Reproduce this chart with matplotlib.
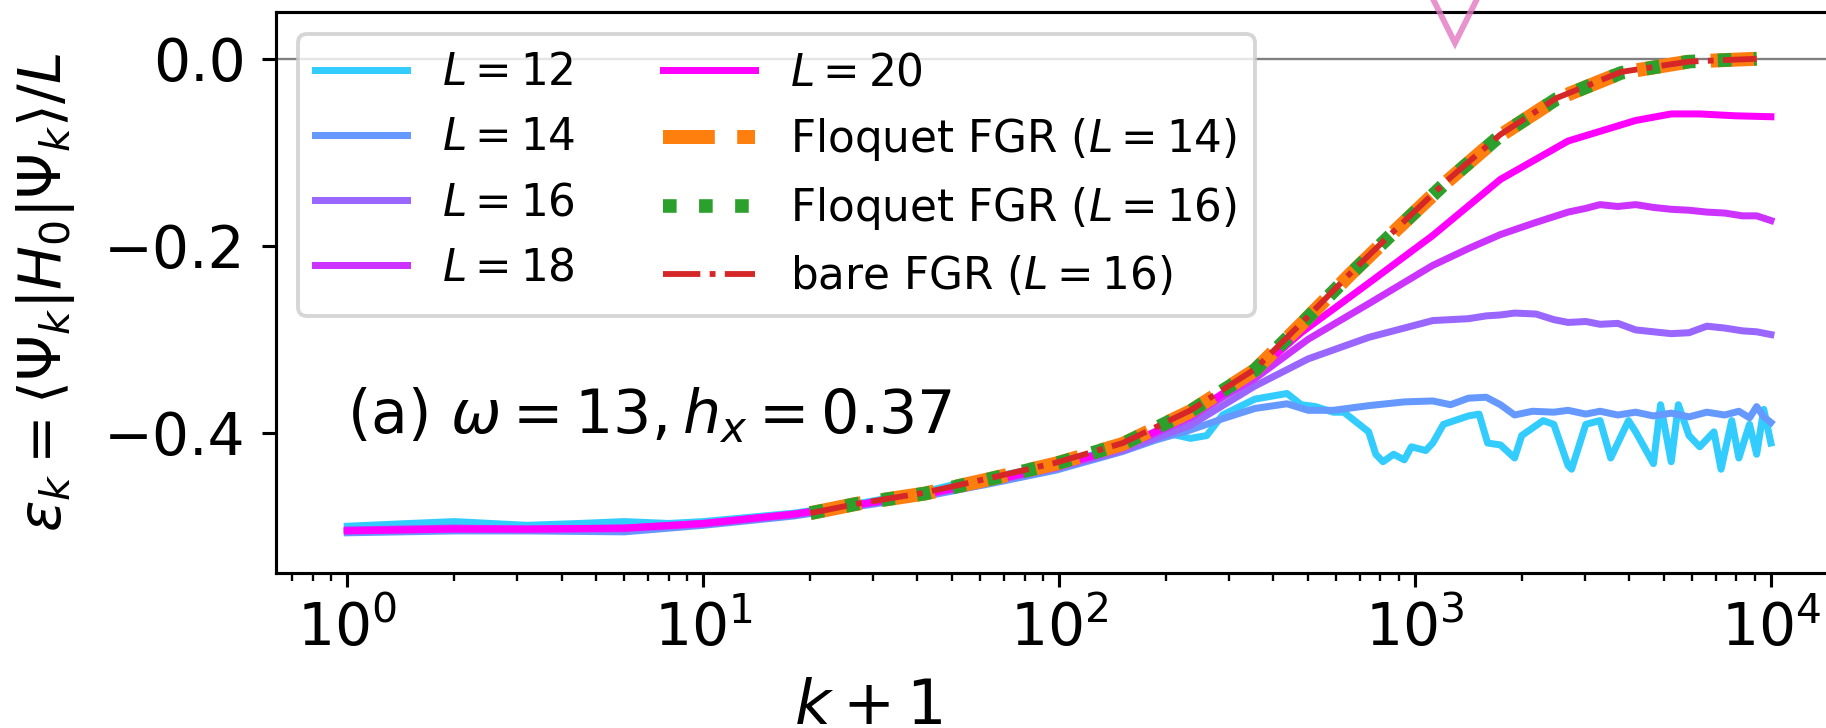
import matplotlib
matplotlib.use("Agg")
import matplotlib.pyplot as plt
import numpy as np

# energy density eps_k vs. k+1, exact dynamics for several system sizes
k_L12 = [1, 1.5, 2, 3.2, 4.5, 6, 8, 10, 18, 27, 42, 55, 70, 98, 151, 186, 210, 234, 260, 288,
         355, 437, 479, 525, 589, 631, 741, 776, 813, 871, 933, 977, 1072, 1122, 1202, 1413,
         1514, 1600, 1738, 1905, 1995, 2291, 2455, 2692, 2754, 3020, 3311, 3548, 3981, 4169,
         4677, 4898, 5248, 5495, 5888, 6310, 6918, 7244, 7762, 8128, 8710, 9120, 9550, 10000]
eps_L12 = [-0.500, -0.497, -0.495, -0.499, -0.497, -0.495, -0.497, -0.495, -0.486, -0.476,
           -0.463, -0.452, -0.445, -0.434, -0.415, -0.403, -0.402, -0.406, -0.403, -0.381,
           -0.364, -0.358, -0.370, -0.372, -0.378, -0.378, -0.399, -0.423, -0.431, -0.423,
           -0.429, -0.415, -0.419, -0.411, -0.391, -0.382, -0.380, -0.411, -0.413, -0.427,
           -0.403, -0.387, -0.391, -0.435, -0.439, -0.391, -0.387, -0.427, -0.387, -0.399,
           -0.433, -0.370, -0.431, -0.370, -0.403, -0.415, -0.399, -0.439, -0.387, -0.427,
           -0.391, -0.423, -0.375, -0.411]

k_L14 = [1, 2, 3.2, 6, 10, 18, 27, 42, 63, 98, 151, 186, 234, 288, 355, 437, 501, 589, 741,
         933, 1122, 1259, 1413, 1585, 1738, 1905, 2138, 2455, 2692, 3020, 3311, 3715, 4169,
         4677, 5248, 5888, 6607, 7413, 8128, 8710, 9120, 9550, 10000]
eps_L14 = [-0.507, -0.505, -0.505, -0.506, -0.499, -0.489, -0.479, -0.468, -0.455, -0.440,
           -0.420, -0.408, -0.397, -0.385, -0.374, -0.369, -0.376, -0.376, -0.371, -0.367,
           -0.366, -0.370, -0.363, -0.362, -0.370, -0.381, -0.377, -0.378, -0.376, -0.380,
           -0.377, -0.381, -0.378, -0.382, -0.379, -0.383, -0.378, -0.381, -0.377, -0.384,
           -0.372, -0.383, -0.389]

k_L16 = [1, 2, 3.2, 6, 10, 18, 27, 42, 63, 98, 151, 234, 288, 355, 501, 741, 933, 1122, 1413,
         1585, 1738, 1905, 2188, 2455, 2692, 3020, 3311, 3715, 4169, 4677, 5248, 5888, 6607,
         7413, 8318, 9120, 10000]
eps_L16 = [-0.505, -0.503, -0.504, -0.503, -0.498, -0.488, -0.478, -0.467, -0.453, -0.438,
           -0.419, -0.392, -0.371, -0.350, -0.321, -0.298, -0.288, -0.280, -0.278, -0.275,
           -0.274, -0.272, -0.273, -0.279, -0.282, -0.281, -0.284, -0.283, -0.290, -0.292,
           -0.294, -0.293, -0.286, -0.288, -0.291, -0.292, -0.295]

k_L18 = [1, 2, 3.2, 6, 10, 18, 27, 42, 63, 98, 151, 234, 288, 355, 501, 741, 1122, 1413, 1738,
         2188, 2692, 3020, 3311, 3715, 4169, 4677, 5248, 5888, 6607, 7413, 8318, 9120, 10000]
eps_L18 = [-0.504, -0.502, -0.503, -0.502, -0.497, -0.487, -0.477, -0.466, -0.452, -0.437,
           -0.416, -0.384, -0.362, -0.342, -0.300, -0.262, -0.221, -0.203, -0.188, -0.175,
           -0.164, -0.160, -0.156, -0.158, -0.156, -0.159, -0.161, -0.162, -0.164, -0.165,
           -0.168, -0.168, -0.173]

k_L20 = [1, 2, 3.2, 6, 10, 18, 27, 42, 63, 98, 151, 234, 288, 355, 479, 741, 1122, 1738, 2692,
         4169, 5248, 6310, 7943, 10000]
eps_L20 = [-0.505, -0.503, -0.503, -0.502, -0.497, -0.487, -0.477, -0.466, -0.452, -0.436,
           -0.415, -0.381, -0.358, -0.336, -0.293, -0.240, -0.189, -0.129, -0.088, -0.066,
           -0.059, -0.059, -0.061, -0.062]

# Fermi golden rule predictions
k_fgr = [20, 27, 42, 63, 98, 151, 234, 355, 479, 656, 891, 1233, 1738, 2500, 3802, 5888, 9120]
fgr_floquet_14 = [-0.486, -0.476, -0.465, -0.450, -0.433, -0.412, -0.377, -0.333, -0.284,
                  -0.231, -0.182, -0.131, -0.082, -0.043, -0.015, -0.003, 0.000]
fgr_floquet_16 = [-0.486, -0.476, -0.465, -0.450, -0.433, -0.412, -0.377, -0.333, -0.284,
                  -0.231, -0.182, -0.131, -0.082, -0.043, -0.015, -0.003, 0.000]
fgr_bare_16 = [-0.486, -0.476, -0.464, -0.449, -0.432, -0.411, -0.376, -0.332, -0.283,
               -0.230, -0.181, -0.130, -0.081, -0.042, -0.014, -0.003, 0.000]

sizes = [12, 14, 16, 18, 20]
k_marker = 1294

fig = plt.figure(figsize=(1826 / 280, 728 / 280), dpi=280)
ax = fig.add_axes([0.1512, 0.2129, 0.8576, 0.7706])

cols = plt.cm.cool(np.linspace(0.2, 1.0, 5))
series = [(k_L12, eps_L12), (k_L14, eps_L14), (k_L16, eps_L16), (k_L18, eps_L18), (k_L20, eps_L20)]
for (kk, ee), L, c in zip(series, sizes, cols):
    ax.plot(kk, ee, color=c, lw=1.8, label=rf"$L={L}$")

ax.plot(k_fgr, fgr_floquet_14, "--", color="tab:orange", lw=3.6, label=r"Floquet FGR ($L=14$)")
ax.plot(k_fgr, fgr_floquet_16, ":", color="tab:green", lw=3.5, label=r"Floquet FGR ($L=16$)")
ax.plot(k_fgr, fgr_bare_16, "-.", color="tab:red", lw=1.5, label=r"bare FGR ($L=16$)")

ax.axhline(0, color="gray", lw=0.6, zorder=0)
ax.plot([k_marker], [0.05], "v", mfc="none", mec="tab:pink", mew=1.5, ms=16,
        alpha=0.8, clip_on=False, zorder=5)

ax.set_xscale("log")
ax.set_xlim(10 ** -0.2, 10 ** 4.2)
ax.set_ylim(-0.55, 0.05)
ax.set_yticks([-0.4, -0.2, 0.0])
ax.tick_params(labelsize=15)
ax.tick_params(axis="y", pad=4.3)

ax.set_xlabel(r"$k+1$", fontsize=16)
ax.xaxis.set_label_coords(0.378, -0.185)
ax.set_ylabel(r"$\varepsilon_k=\langle\Psi_k|H_0|\Psi_k\rangle/L$", fontsize=15)
ax.yaxis.set_label_coords(-0.127, 0.5)

ax.text(0.045, 0.25, r"(a) $\omega=13, h_x=0.37$", transform=ax.transAxes,
        fontsize=15.5, va="baseline")

ax.legend(loc="upper left", ncol=2, fontsize=11.25, handlelength=2.1)

fig.savefig("out.png", dpi=280)
